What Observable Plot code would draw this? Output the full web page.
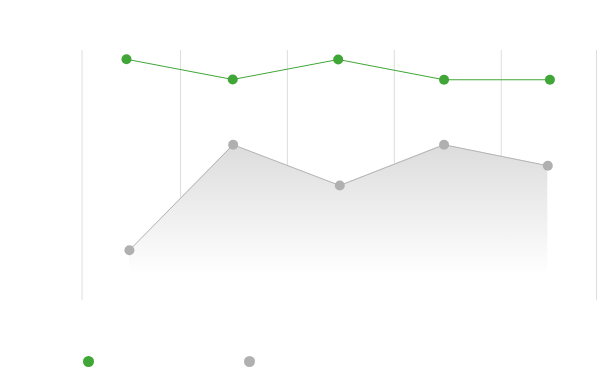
<!DOCTYPE html>
<html>
<head>
<meta charset="utf-8">
<script src="https://cdn.jsdelivr.net/npm/d3@7"></script>
<script src="https://cdn.jsdelivr.net/npm/@observablehq/plot@0.6"></script>
<style>
  html, body { margin: 0; padding: 0; background: #fff; }
  #chart svg { display: block; }
  .legend { position: relative; height: 42px; width: 597px; font-family: "Open Sans", sans-serif; }
  .legend span { position: absolute; top: 26px; width: 11px; height: 11px; border-radius: 50%; }
</style>
</head>
<body>
<div id="chart"></div>
<div class="legend" id="legend"></div>
<script>
// Series values (y axis 0–100, x is the category index)
const greenX = [0, 1.004, 2.0, 3.0, 4.0];
const greenY = [96.5, 88.4, 96.4, 88.3, 88.3];
const grayX = [0.028, 1.008, 2.015, 3.0, 3.98];
const grayY = [20.1, 62.3, 46.0, 62.3, 53.9];
// Vertical grid line positions (in x-index units)
const gridX = [-0.42, 0.51, 1.52, 2.53, 3.54, 4.44];
const legendItems = [
  {color: "#40a637", left: 83},
  {color: "#b0b0b0", left: 244}
];

const green = greenX.map((x, i) => ({x, y: greenY[i]}));
const gray = grayX.map((x, i) => ({x, y: grayY[i]}));

const gradientDefs = () => {
  const defs = d3.create("svg:defs");
  const g = defs.append("linearGradient")
    .attr("id", "grayFade").attr("x1", 0).attr("x2", 0).attr("y1", 0).attr("y2", 1);
  g.append("stop").attr("offset", 0).attr("stop-color", "#dcdcdc");
  g.append("stop").attr("offset", 0.84).attr("stop-color", "#ffffff");
  return defs.node();
};

const chart = Plot.plot({
  width: 597,
  height: 330,
  marginTop: 0, marginBottom: 0, marginLeft: 0, marginRight: 0,
  x: {domain: [-0.42, 4.44], range: [81.5, 596], axis: null},
  y: {domain: [0, 100], range: [300, 50], axis: null},
  marks: [
    gradientDefs,
    Plot.ruleX(gridX, {y1: 0, y2: 100, stroke: "#dddddd", strokeWidth: 1}),
    Plot.areaY(gray, {x: "x", y1: 0, y2: "y", fill: "url(#grayFade)"}),
    Plot.line(gray, {x: "x", y: "y", stroke: "#b4b4b4", strokeWidth: 1}),
    Plot.dot(gray, {x: "x", y: "y", r: 5, fill: "#b0b0b0", stroke: "none"}),
    Plot.line(green, {x: "x", y: "y", stroke: "#40a637", strokeWidth: 1}),
    Plot.dot(green, {x: "x", y: "y", r: 5, fill: "#40a637", stroke: "none"})
  ]
});
document.getElementById("chart").append(chart);

const legend = document.getElementById("legend");
for (const it of legendItems) {
  const s = document.createElement("span");
  s.style.background = it.color;
  s.style.left = it.left + "px";
  legend.append(s);
}
</script>
</body>
</html>
